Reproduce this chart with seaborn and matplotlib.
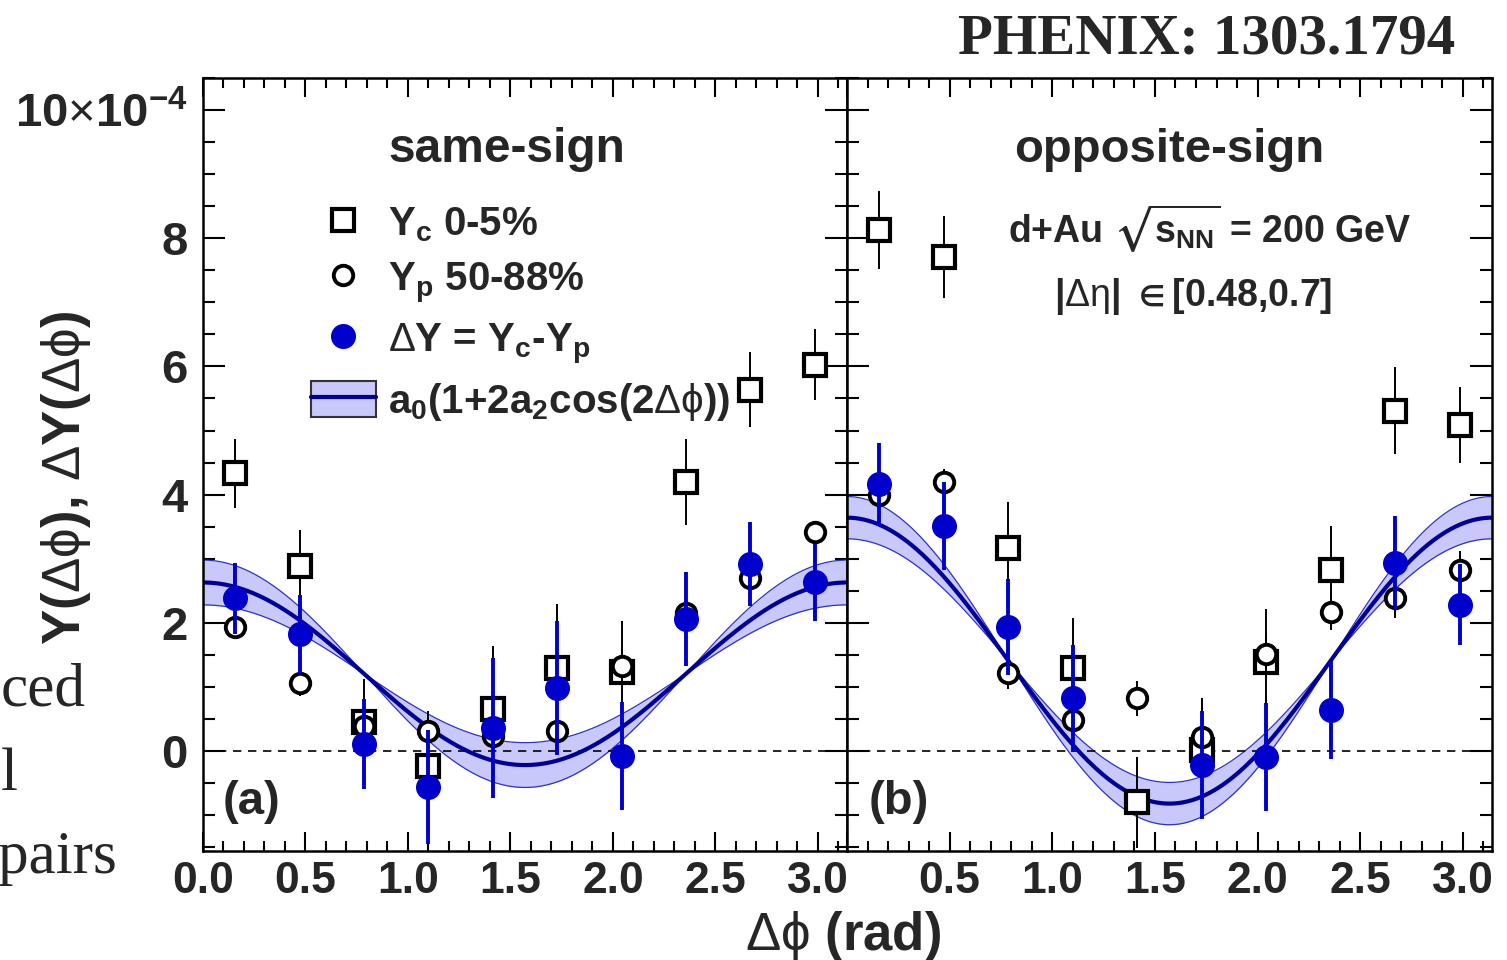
import numpy as np
import matplotlib
matplotlib.use('Agg')
import matplotlib.pyplot as plt
import seaborn as sns
from matplotlib.lines import Line2D
from matplotlib.patches import Patch
from matplotlib.legend_handler import HandlerTuple
from matplotlib.ticker import MultipleLocator

# bin centres in delta phi (rad)
dphi = [0.157, 0.471, 0.785, 1.100, 1.414, 1.728, 2.042, 2.356, 2.670, 2.985]

# same-sign pairs, units of 1e-4
ss_yc = [4.33, 2.89, 0.45, -0.23, 0.66, 1.30, 1.23, 4.20, 5.64, 6.03]
ss_yc_err = [0.54, 0.56, 0.67, 0.86, 0.98, 1.00, 0.80, 0.67, 0.58, 0.56]
ss_yp = [1.94, 1.06, 0.39, 0.31, 0.23, 0.31, 1.33, 2.16, 2.70, 3.41]
ss_yp_err = [0.18, 0.20, 0.22, 0.22, 0.24, 0.25, 0.25, 0.25, 0.22, 0.18]
ss_dy = [2.38, 1.83, 0.11, -0.56, 0.36, 0.98, -0.08, 2.06, 2.92, 2.63]
ss_dy_err = [0.55, 0.61, 0.70, 0.89, 1.09, 1.05, 0.84, 0.73, 0.65, 0.60]

# opposite-sign pairs
os_yc = [8.13, 7.70, 3.16, 1.29, -0.80, 0.02, 1.39, 2.82, 5.31, 5.09]
os_yc_err = [0.61, 0.64, 0.72, 0.78, 0.71, 0.80, 0.82, 0.69, 0.68, 0.59]
os_yp = [3.99, 4.20, 1.22, 0.48, 0.82, 0.22, 1.51, 2.17, 2.38, 2.82]
os_yp_err = [0.20, 0.20, 0.25, 0.25, 0.28, 0.28, 0.30, 0.28, 0.30, 0.30]
os_dy = [4.16, 3.51, 1.94, 0.82, np.nan, -0.22, -0.09, 0.64, 2.94, 2.28]
os_dy_err = [0.65, 0.68, 0.75, 0.84, np.nan, 0.84, 0.84, 0.77, 0.73, 0.63]

# fit a0(1+2a2cos(2dphi)): a0, a2, uncertainty on a2
ss_fit = (1.205, 0.591, 0.145)
os_fit = (1.41, 0.791, 0.117)

blue = '#0000cc'
navy = '#000099'
band_c = '#c8c8fa'

sns.set_theme(style='ticks')
plt.rcParams['font.family'] = ['Liberation Sans', 'DejaVu Sans']
plt.rcParams['font.weight'] = 'bold'
plt.rcParams['mathtext.fontset'] = 'custom'
plt.rcParams['mathtext.rm'] = 'Liberation Sans:weight=normal'
plt.rcParams['mathtext.it'] = 'Liberation Sans:style=italic:weight=normal'
plt.rcParams['mathtext.bf'] = 'Liberation Sans:weight=bold'
plt.rcParams['mathtext.fallback'] = 'stix'
plt.rcParams['axes.linewidth'] = 1.8

fig = plt.figure(figsize=(15.07, 9.6), dpi=100)
W, H = 1507, 960
ax1 = fig.add_axes([203 / W, 1 - 851 / H, 644 / W, 773 / H])
ax2 = fig.add_axes([847 / W, 1 - 851 / H, 645 / W, 773 / H], sharey=ax1)


def draw_panel(ax, yc, yc_err, yp, yp_err, dy, dy_err, fit):
    a0, a2, da2 = fit
    xs = np.linspace(0, np.pi, 300)
    lo = a0 * (1 + 2 * (a2 - da2) * np.cos(2 * xs))
    hi = a0 * (1 + 2 * (a2 + da2) * np.cos(2 * xs))
    ax.fill_between(xs, lo, hi, color=band_c, lw=0, zorder=1)
    ax.plot(xs, lo, color='#3030c8', lw=0.9, zorder=1.5)
    ax.plot(xs, hi, color='#3030c8', lw=0.9, zorder=1.5)
    sns.lineplot(x=xs, y=a0 * (1 + 2 * a2 * np.cos(2 * xs)), color=navy, lw=3,
                 ax=ax, zorder=2)
    ax.axhline(0, color='black', lw=1.2, ls=(0, (5, 4)), zorder=1.8)
    ax.errorbar(dphi, yc, yerr=yc_err, fmt='s', ms=15.5, mfc='white', mec='black',
                mew=3, ecolor='black', elinewidth=1.4, capsize=0, zorder=3)
    ax.errorbar(dphi, yp, yerr=yp_err, fmt='o', ms=14, mfc='white', mec='black',
                mew=2.8, ecolor='black', elinewidth=1.4, capsize=0, zorder=4)
    ax.errorbar(dphi, dy, yerr=dy_err, fmt='o', ms=17, color=blue,
                ecolor=blue, elinewidth=2.8, capsize=0, zorder=5)
    ax.set_xlim(0, np.pi)
    ax.set_ylim(-1.56, 10.5)
    ax.xaxis.set_major_locator(MultipleLocator(0.5))
    ax.xaxis.set_minor_locator(MultipleLocator(0.1))
    ax.yaxis.set_minor_locator(MultipleLocator(0.5))
    ax.tick_params(which='both', direction='in', top=True, right=True,
                   width=1.5, color='black', labelsize=32)
    ax.tick_params(axis='y', which='major', length=16, pad=11, labelsize=34)
    ax.tick_params(axis='y', which='minor', length=8.5)
    ax.tick_params(axis='x', which='major', length=14, pad=7)
    ax.tick_params(axis='x', which='minor', length=7)
    ax.set_xlabel('')
    ax.set_ylabel('')
    for s in ax.spines.values():
        s.set_color('black')


draw_panel(ax1, ss_yc, ss_yc_err, ss_yp, ss_yp_err, ss_dy, ss_dy_err, ss_fit)
draw_panel(ax2, os_yc, os_yc_err, os_yp, os_yp_err, os_dy, os_dy_err, os_fit)

ax1.set_yticks([0, 2, 4, 6, 8, 10])
ax1.set_yticklabels(['0', '2', '4', '6', '8', r'10$\times$10$^{\mathbf{-4}}$'])
xt = [0.0, 0.5, 1.0, 1.5, 2.0, 2.5, 3.0]
ax1.set_xticks(xt)
ax1.set_xticklabels(['%.1f' % v for v in xt])
ax2.set_xticks(xt)
ax2.set_xticklabels([''] + ['%.1f' % v for v in xt[1:]])
ax2.tick_params(axis='y', labelleft=False)

# panel texts
ax1.text(0.472, 0.891, 'same-sign', transform=ax1.transAxes, ha='center',
         va='baseline', fontsize=34.5, fontweight='bold')
ax2.text(0.50, 0.891, 'opposite-sign', transform=ax2.transAxes, ha='center',
         va='baseline', fontsize=34, fontweight='bold')
ax2.text(0.563, 0.788, r'd+Au $\sqrt{\mathbf{s}_{\mathbf{NN}}}$ = 200 GeV',
         transform=ax2.transAxes, ha='center', va='baseline', fontsize=27,
         fontweight='bold')
ax2.text(0.536, 0.705, r'|$\Delta\mathrm{\eta}$| $\in$[0.48,0.7]',
         transform=ax2.transAxes, ha='center', va='baseline', fontsize=27,
         fontweight='bold')
ax1.text(0.030, 0.048, '(a)', transform=ax1.transAxes, ha='left',
         va='baseline', fontsize=34, fontweight='bold')
ax2.text(0.033, 0.048, '(b)', transform=ax2.transAxes, ha='left',
         va='baseline', fontsize=34, fontweight='bold')

# legend
handles = [
    Line2D([], [], ls='none', marker='s', ms=15.5, mfc='white', mec='black', mew=3),
    Line2D([], [], ls='none', marker='o', ms=14, mfc='white', mec='black', mew=2.8),
    Line2D([], [], ls='none', marker='o', ms=17, color=blue),
    (Patch(fc=band_c, ec='#333333', lw=1.5), Line2D([], [], color=navy, lw=3)),
]
labels = [
    r'$\mathbf{Y_{c}}$ 0-5%',
    r'$\mathbf{Y_{p}}$ 50-88%',
    r'$\Delta\mathbf{Y}$ = $\mathbf{Y_{c}}$-$\mathbf{Y_{p}}$',
    r'$\mathbf{a_{0}}$(1+2$\mathbf{a_{2}}$cos(2$\Delta\mathrm{\phi}$))',
]
ax1.legend(handles, labels, loc='upper left', bbox_to_anchor=(0.168, 0.837),
           frameon=False, fontsize=29, handlelength=1.6, handleheight=1.0,
           handletextpad=0.3, labelspacing=0.36, borderpad=0, borderaxespad=0,
           handler_map={tuple: HandlerTuple(ndivide=1, pad=0)})

# axis titles
fig.text(843 / W, 1 - 950 / H, r'$\Delta\mathrm{\phi}$ (rad)', ha='center',
         va='baseline', fontsize=38, fontweight='bold')
fig.text(66 / W, 1 - 478 / H,
         r'Y($\Delta\mathrm{\phi}$), $\Delta$Y($\Delta\mathrm{\phi}$)',
         rotation=90, ha='center', va='center', fontsize=38, fontweight='bold')

# header and page fragments
fig.text(1455 / W, 1 - 53 / H, 'PHENIX: 1303.1794', ha='right', va='baseline',
         fontsize=41, fontweight='bold', family='Liberation Serif')
fig.text(86 / W, 1 - 706 / H, 'ced', ha='right', va='baseline', fontsize=44,
         fontweight='normal', family='Liberation Serif')
fig.text(1 / W, 1 - 790 / H, 'l', ha='left', va='baseline', fontsize=44,
         fontweight='normal', family='Liberation Serif')
fig.text(117 / W, 1 - 873 / H, 'pairs', ha='right', va='baseline', fontsize=44,
         fontweight='normal', family='Liberation Serif')

fig.savefig('out.png', dpi=100)
